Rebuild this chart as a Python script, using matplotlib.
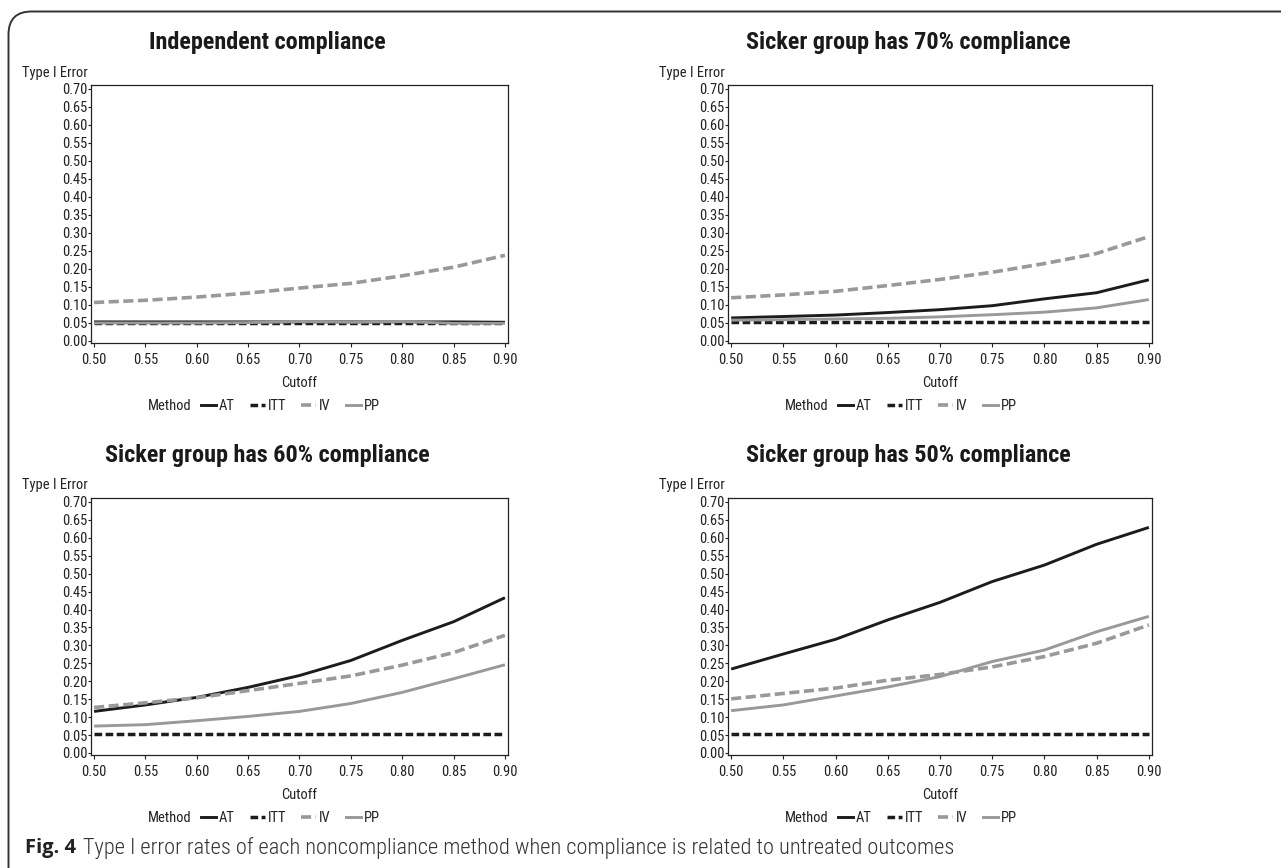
import os
import matplotlib
matplotlib.use("Agg")
import matplotlib.pyplot as plt
from matplotlib.lines import Line2D
from matplotlib.patches import FancyBboxPatch
from matplotlib import font_manager as fm

plt.rcParams['font.family'] = ['Liberation Sans', 'DejaVu Sans']

cutoff = [0.50, 0.55, 0.60, 0.65, 0.70, 0.75, 0.80, 0.85, 0.90]
xticks = [0.50, 0.55, 0.60, 0.65, 0.70, 0.75, 0.80, 0.85, 0.90]
yticks = [0.00, 0.05, 0.10, 0.15, 0.20, 0.25, 0.30, 0.35, 0.40, 0.45, 0.50, 0.55, 0.60, 0.65, 0.70]

titles = ["Independent compliance", "Sicker group has 70% compliance",
          "Sicker group has 60% compliance", "Sicker group has 50% compliance"]

# Independent compliance
ind_AT = [0.053, 0.053, 0.053, 0.053, 0.053, 0.053, 0.053, 0.053, 0.052]
ind_ITT = [0.049, 0.049, 0.049, 0.049, 0.049, 0.049, 0.049, 0.049, 0.049]
ind_IV = [0.107, 0.113, 0.122, 0.133, 0.147, 0.160, 0.181, 0.205, 0.238]
ind_PP = [0.050, 0.050, 0.050, 0.051, 0.054, 0.052, 0.054, 0.049, 0.049]

# Sicker group 70%
s70_AT = [0.064, 0.068, 0.072, 0.079, 0.087, 0.098, 0.117, 0.134, 0.170]
s70_ITT = [0.053, 0.053, 0.053, 0.053, 0.053, 0.053, 0.053, 0.053, 0.053]
s70_IV = [0.120, 0.128, 0.138, 0.154, 0.171, 0.191, 0.215, 0.243, 0.290]
s70_PP = [0.058, 0.059, 0.061, 0.063, 0.067, 0.073, 0.080, 0.092, 0.115]

# Sicker group 60%
s60_AT = [0.116, 0.134, 0.155, 0.183, 0.216, 0.258, 0.314, 0.366, 0.433]
s60_ITT = [0.052, 0.052, 0.052, 0.052, 0.052, 0.052, 0.052, 0.052, 0.052]
s60_IV = [0.127, 0.140, 0.154, 0.174, 0.194, 0.215, 0.245, 0.280, 0.328]
s60_PP = [0.075, 0.079, 0.090, 0.102, 0.116, 0.138, 0.169, 0.207, 0.246]

# Sicker group 50%
s50_AT = [0.234, 0.276, 0.317, 0.371, 0.420, 0.478, 0.524, 0.582, 0.629]
s50_ITT = [0.054, 0.054, 0.054, 0.054, 0.054, 0.054, 0.054, 0.054, 0.054]
s50_IV = [0.151, 0.166, 0.181, 0.203, 0.219, 0.240, 0.269, 0.306, 0.357]
s50_PP = [0.118, 0.134, 0.159, 0.184, 0.213, 0.255, 0.287, 0.338, 0.381]

panels = [
    (ind_AT, ind_ITT, ind_IV, ind_PP),
    (s70_AT, s70_ITT, s70_IV, s70_PP),
    (s60_AT, s60_ITT, s60_IV, s60_PP),
    (s50_AT, s50_ITT, s50_IV, s50_PP),
]
methods = ["AT", "ITT", "IV", "PP"]

BLACK = "#1c1c1c"
GRAY = "#999999"
TXT = "#222222"
styles = {
    "AT": dict(color=BLACK, lw=2.1, ls="-"),
    "ITT": dict(color=BLACK, lw=2.5, ls=(0, (2.2, 1.0))),
    "IV": dict(color=GRAY, lw=2.6, ls=(0, (2.8, 1.25))),
    "PP": dict(color=GRAY, lw=2.1, ls="-"),
}

# ---- font selection: prefer a condensed sans if installed ----
_files = {os.path.basename(f.fname).lower(): f.fname for f in fm.fontManager.ttflist}


def pick(cands, family, weight):
    for c in cands:
        if c.lower() in _files:
            return fm.FontProperties(fname=_files[c.lower()])
    return fm.FontProperties(family=family, weight=weight)


fp_reg = pick(["LiberationSansNarrow-Regular.ttf", "NotoSans-SemiCondensed.ttf",
               "NotoSans-Condensed.ttf", "RobotoCondensed-Regular.ttf",
               "DejaVuSansCondensed.ttf"], "Liberation Sans", "normal")
fp_bold = pick(["LiberationSansNarrow-Bold.ttf", "NotoSans-SemiCondensedBold.ttf",
                "NotoSans-CondensedBold.ttf", "RobotoCondensed-Bold.ttf",
                "DejaVuSansCondensed-Bold.ttf"], "Liberation Sans", "bold")
fp_cap = pick(["NotoSans-CondensedLight.ttf", "NotoSans-SemiCondensedLight.ttf",
               "NotoSans-Condensed.ttf", "LiberationSansNarrow-Regular.ttf",
               "RobotoCondensed-Light.ttf", "RobotoCondensed-Regular.ttf",
               "DejaVuSansCondensed.ttf"], "Liberation Sans", "normal")
fp_capb = pick(["OpenSans-Bold.ttf", "NotoSans-SemiCondensedBold.ttf"], "Open Sans", "bold")

W, H = 1281, 868
fig = plt.figure(figsize=(W / 100, H / 100), dpi=100)
renderer = fig.canvas.get_renderer()


def sized(fp, text, target_px):
    p = fp.copy()
    p.set_size(10)
    t = fig.text(0, 0, text, fontproperties=p)
    w = t.get_window_extent(renderer).width
    t.remove()
    p = fp.copy()
    p.set_size(10 * target_px / w)
    return p


lab = sized(fp_reg, "Type I Error", 65)
ttl = sized(fp_bold, "Independent compliance", 236)
cap = sized(fp_cap, "Type I error rates of each noncompliance method when compliance is related to untreated outcomes", 870)
capb = sized(fp_capb, "Fig. 4", 51)
em = lab.get_size_in_points() * 100 / 72

# border (top and left only, rounded corner)
border = FancyBboxPatch((8.5 / W, -0.1), 1.2, (H - 11.5) / H + 0.1,
                        boxstyle="round,pad=0,rounding_size=0.018",
                        transform=fig.transFigure, fill=False,
                        ec="#333333", lw=1.4, mutation_aspect=W / H)
fig.patches.append(border)

# axes boxes in pixel coords: left, right, top, bottom
boxes = [(91, 508, 85, 343), (728, 1152, 85, 343),
         (91, 508, 498, 755), (728, 1152, 498, 755)]

for i, (box, data) in enumerate(zip(boxes, panels)):
    l, r, t, b = box
    ax = fig.add_axes([l / W, 1 - b / H, (r - l) / W, (b - t) / H])
    for m, vals in zip(methods, data):
        ax.plot(cutoff, vals, label=m, solid_capstyle="butt",
                dash_capstyle="butt", **styles[m])
    ax.set_xlim(0.497, 0.903)
    ax.set_ylim(-0.0056, 0.711)
    ax.set_xticks(xticks)
    ax.set_xticklabels([f"{v:.2f}" for v in xticks], fontproperties=lab)
    ax.set_yticks(yticks)
    ax.set_yticklabels([f"{v:.2f}" for v in yticks], fontproperties=lab)
    ax.tick_params(axis="x", length=3, width=0.8, pad=4.5, colors=TXT)
    ax.tick_params(axis="y", length=2.2, width=0.8, pad=0.4, colors=TXT)
    for s in ax.spines.values():
        s.set_linewidth(0.9)
        s.set_color(TXT)
    cx = (l + r) / 2
    fig.text((cx - 32) / W, 1 - (t - 42.5) / H, titles[i], ha="center", va="center",
             fontproperties=ttl, color="#1a1a1a")
    fig.text((l - 69) / W, 1 - (t - 12.5) / H, "Type I Error", ha="left", va="center",
             fontproperties=lab, color=TXT)
    fig.text(cx / W, 1 - (b + 40) / H, "Cutoff", ha="center", va="center",
             fontproperties=lab, color=TXT)
    fig.text((l + 57) / W, 1 - (b + 63.5) / H, "Method", ha="left", va="center",
             fontproperties=lab, color=TXT)
    handles = [Line2D([], [], **styles[m]) for m in methods]
    fig.legend(handles, methods, loc="center left",
               bbox_to_anchor=((l + 110) / W, 1 - (b + 63.5) / H),
               ncol=4, frameon=False, prop=lab, handlelength=15 / em,
               handletextpad=3 / em, columnspacing=15 / em, borderpad=0,
               borderaxespad=0, labelcolor=TXT)

fig.text(25 / W, 1 - 848 / H, "Fig. 4", ha="left", va="center",
         fontproperties=capb, color="#222222")
fig.text(83 / W, 1 - 848 / H,
         "Type I error rates of each noncompliance method when compliance is related to untreated outcomes",
         ha="left", va="center", fontproperties=cap, color="#333333")

fig.savefig("out.png", dpi=100)
